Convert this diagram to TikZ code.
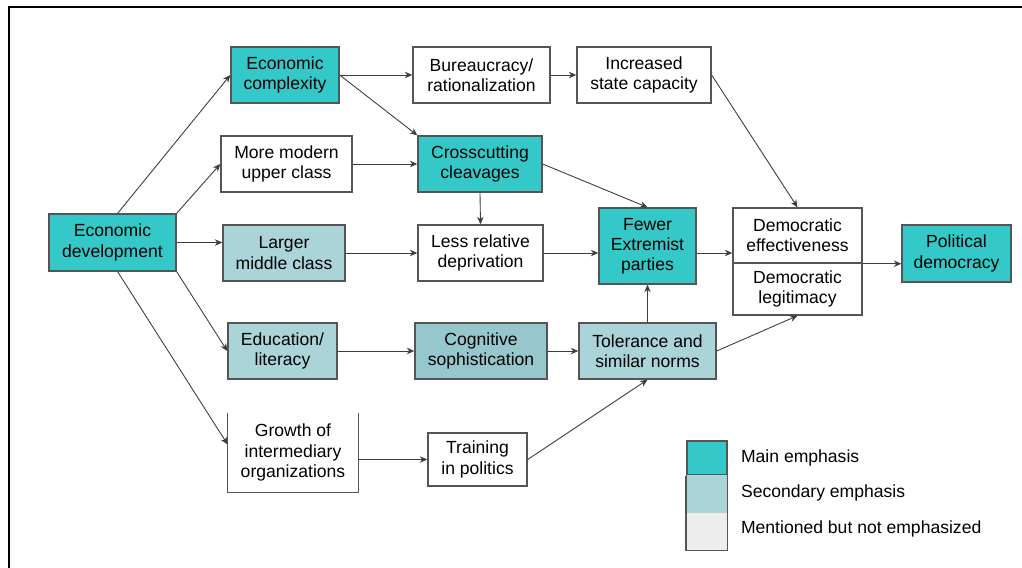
\documentclass[tikz,border=0pt]{standalone}
\usepackage{fontspec}
\setmainfont{Liberation Sans}
\usepackage{tikz}
\usetikzlibrary{arrows.meta, calc}

\definecolor{mainteal}{RGB}{52,200,200}
\definecolor{secondblue}{RGB}{170,212,216}
\definecolor{seconddark}{RGB}{150,199,204}
\definecolor{boxline}{RGB}{85,85,85}
\definecolor{arrowgray}{RGB}{60,60,60}

\begin{document}
\begin{tikzpicture}[x=0.02cm, y=-0.02cm,
        font=\fontsize{10}{11.5}\selectfont,
        plain/.style={draw=boxline, line width=0.8pt, fill=white, align=center, inner sep=1pt},
        mainbox/.style={plain, fill=mainteal},
        secondbox/.style={plain, fill=secondblue},
        arr/.style={-{Stealth[length=1.5mm, width=1.3mm]}, draw=arrowgray, line width=0.5pt}]
        \useasboundingbox (0,0) rectangle (1022,568);
        \draw[line width=1.1pt] (9,568) -- (9,7) -- (1022,7);

        \node[mainbox, minimum width=2.54cm, minimum height=1.14cm] (ecodev) at (112.5,242.5) {Economic\\development};
        \node[mainbox, minimum width=2.16cm, minimum height=1.12cm] (ecocomp) at (285,75) {Economic\\complexity};
        \node[plain, minimum width=2.74cm, minimum height=1.12cm] (bureau) at (481.5,75) {Bureaucracy/\\rationalization};
        \node[plain, minimum width=2.68cm, minimum height=1.12cm] (statecap) at (644,75) {Increased\\state capacity};
        \node[plain, minimum width=2.62cm, minimum height=1.12cm] (upper) at (286.5,164) {More modern\\upper class};
        \node[mainbox, minimum width=2.48cm, minimum height=1.12cm] (cleav) at (480,164) {Crosscutting\\cleavages};
        \node[secondbox, minimum width=2.44cm, minimum height=1.12cm] (middle) at (284,253) {Larger\\middle class};
        \node[plain, minimum width=2.5cm, minimum height=1.12cm] (depriv) at (480.5,253) {Less relative\\deprivation};
        \node[mainbox, minimum width=1.94cm, minimum height=1.52cm] (fewer) at (647.5,246) {Fewer\\Extremist\\parties};
        \node[plain, minimum width=2.58cm, minimum height=1.1cm] (demeff) at (797.5,235.5) {Democratic\\effectiveness};
        \node[plain, minimum width=2.58cm, minimum height=1.04cm] (demleg) at (797.5,289) {Democratic\\legitimacy};
        \node[mainbox, minimum width=2.18cm, minimum height=1.14cm] (poldem) at (956.5,253.5) {Political\\democracy};
        \node[secondbox, minimum width=2.18cm, minimum height=1.12cm] (educ) at (282.5,351) {Education/\\literacy};
        \node[secondbox, fill=seconddark, minimum width=2.64cm, minimum height=1.12cm] (cogn) at (481,351) {Cognitive\\sophistication};
        \node[secondbox, minimum width=2.74cm, minimum height=1.12cm] (toler) at (647.5,351) {Tolerance and\\similar norms};
        \node[align=center, minimum width=2.6cm, minimum height=1.58cm] (growth) at (293,452.5) {Growth of\\intermediary\\organizations};
        \draw[draw=boxline, line width=0.8pt] (growth.north west) -- (growth.south west) -- (growth.south east) -- (growth.north east);
        \node[plain, minimum width=1.98cm, minimum height=1.06cm] (train) at (477.5,459.5) {Training\\in politics};

        \draw[arr] (ecodev.80) -- (ecocomp.west);
        \draw[arr] (ecodev.north east) -- (upper.west);
        \draw[arr] (ecodev.east) -- (ecodev.east -| middle.west);
        \draw[arr] (ecodev.south east) -- (educ.west);
        \draw[arr] (ecodev.-80) -- ($(growth.west)+(0,-8)$);
        \draw[arr] (ecocomp.east) -- (bureau.west);
        \draw[arr] (bureau.east) -- (statecap.west);
        \draw[arr] (ecocomp.east) -- (cleav.north west);
        \draw[arr] (upper.east) -- (cleav.west);
        \draw[arr] (cleav.south) -- (depriv.north);
        \draw[arr] (cleav.east) -- (fewer.north);
        \draw[arr] (statecap.east) -- (demeff.north);
        \draw[arr] (middle.east) -- (depriv.west);
        \draw[arr] (depriv.east) -- (depriv.east -| fewer.west);
        \draw[arr] (depriv.east -| fewer.east) -- (depriv.east -| demeff.west);
        \draw[arr] (demeff.south east) -- (demeff.south east -| poldem.west);
        \draw[arr] (educ.east) -- (cogn.west);
        \draw[arr] (cogn.east) -- (toler.west);
        \draw[arr] (toler.north) -- (fewer.south);
        \draw[arr] (toler.east) -- (demleg.south);
        \draw[arr] (train.west -| growth.east) -- (train.west);
        \draw[arr] (train.east) -- (toler.south);

        \begin{scope}[xshift=14.14cm]
            \node[plain, fill=mainteal, minimum width=0.8cm, minimum height=0.68cm] (keymain) at (0,458) {};
            \node[plain, fill=secondblue, draw=none, minimum width=0.8cm, minimum height=0.76cm] (keysecond) at (0,494) {};
            \node[plain, fill=black!7, draw=none, minimum width=0.8cm, minimum height=0.74cm] (keynone) at (0,531.5) {};
            \draw[draw=boxline, line width=0.8pt] (keymain.south west) -- (keynone.south west) -- (keynone.south east) -- (keymain.south east);
            \node[anchor=west] (labmain) at (28,458) {Main emphasis};
            \node[anchor=west] (labsecond) at (28,493) {Secondary emphasis};
            \node[anchor=west] (labnone) at (28,529) {Mentioned but not emphasized};
        \end{scope}
    \end{tikzpicture}
\end{document}
